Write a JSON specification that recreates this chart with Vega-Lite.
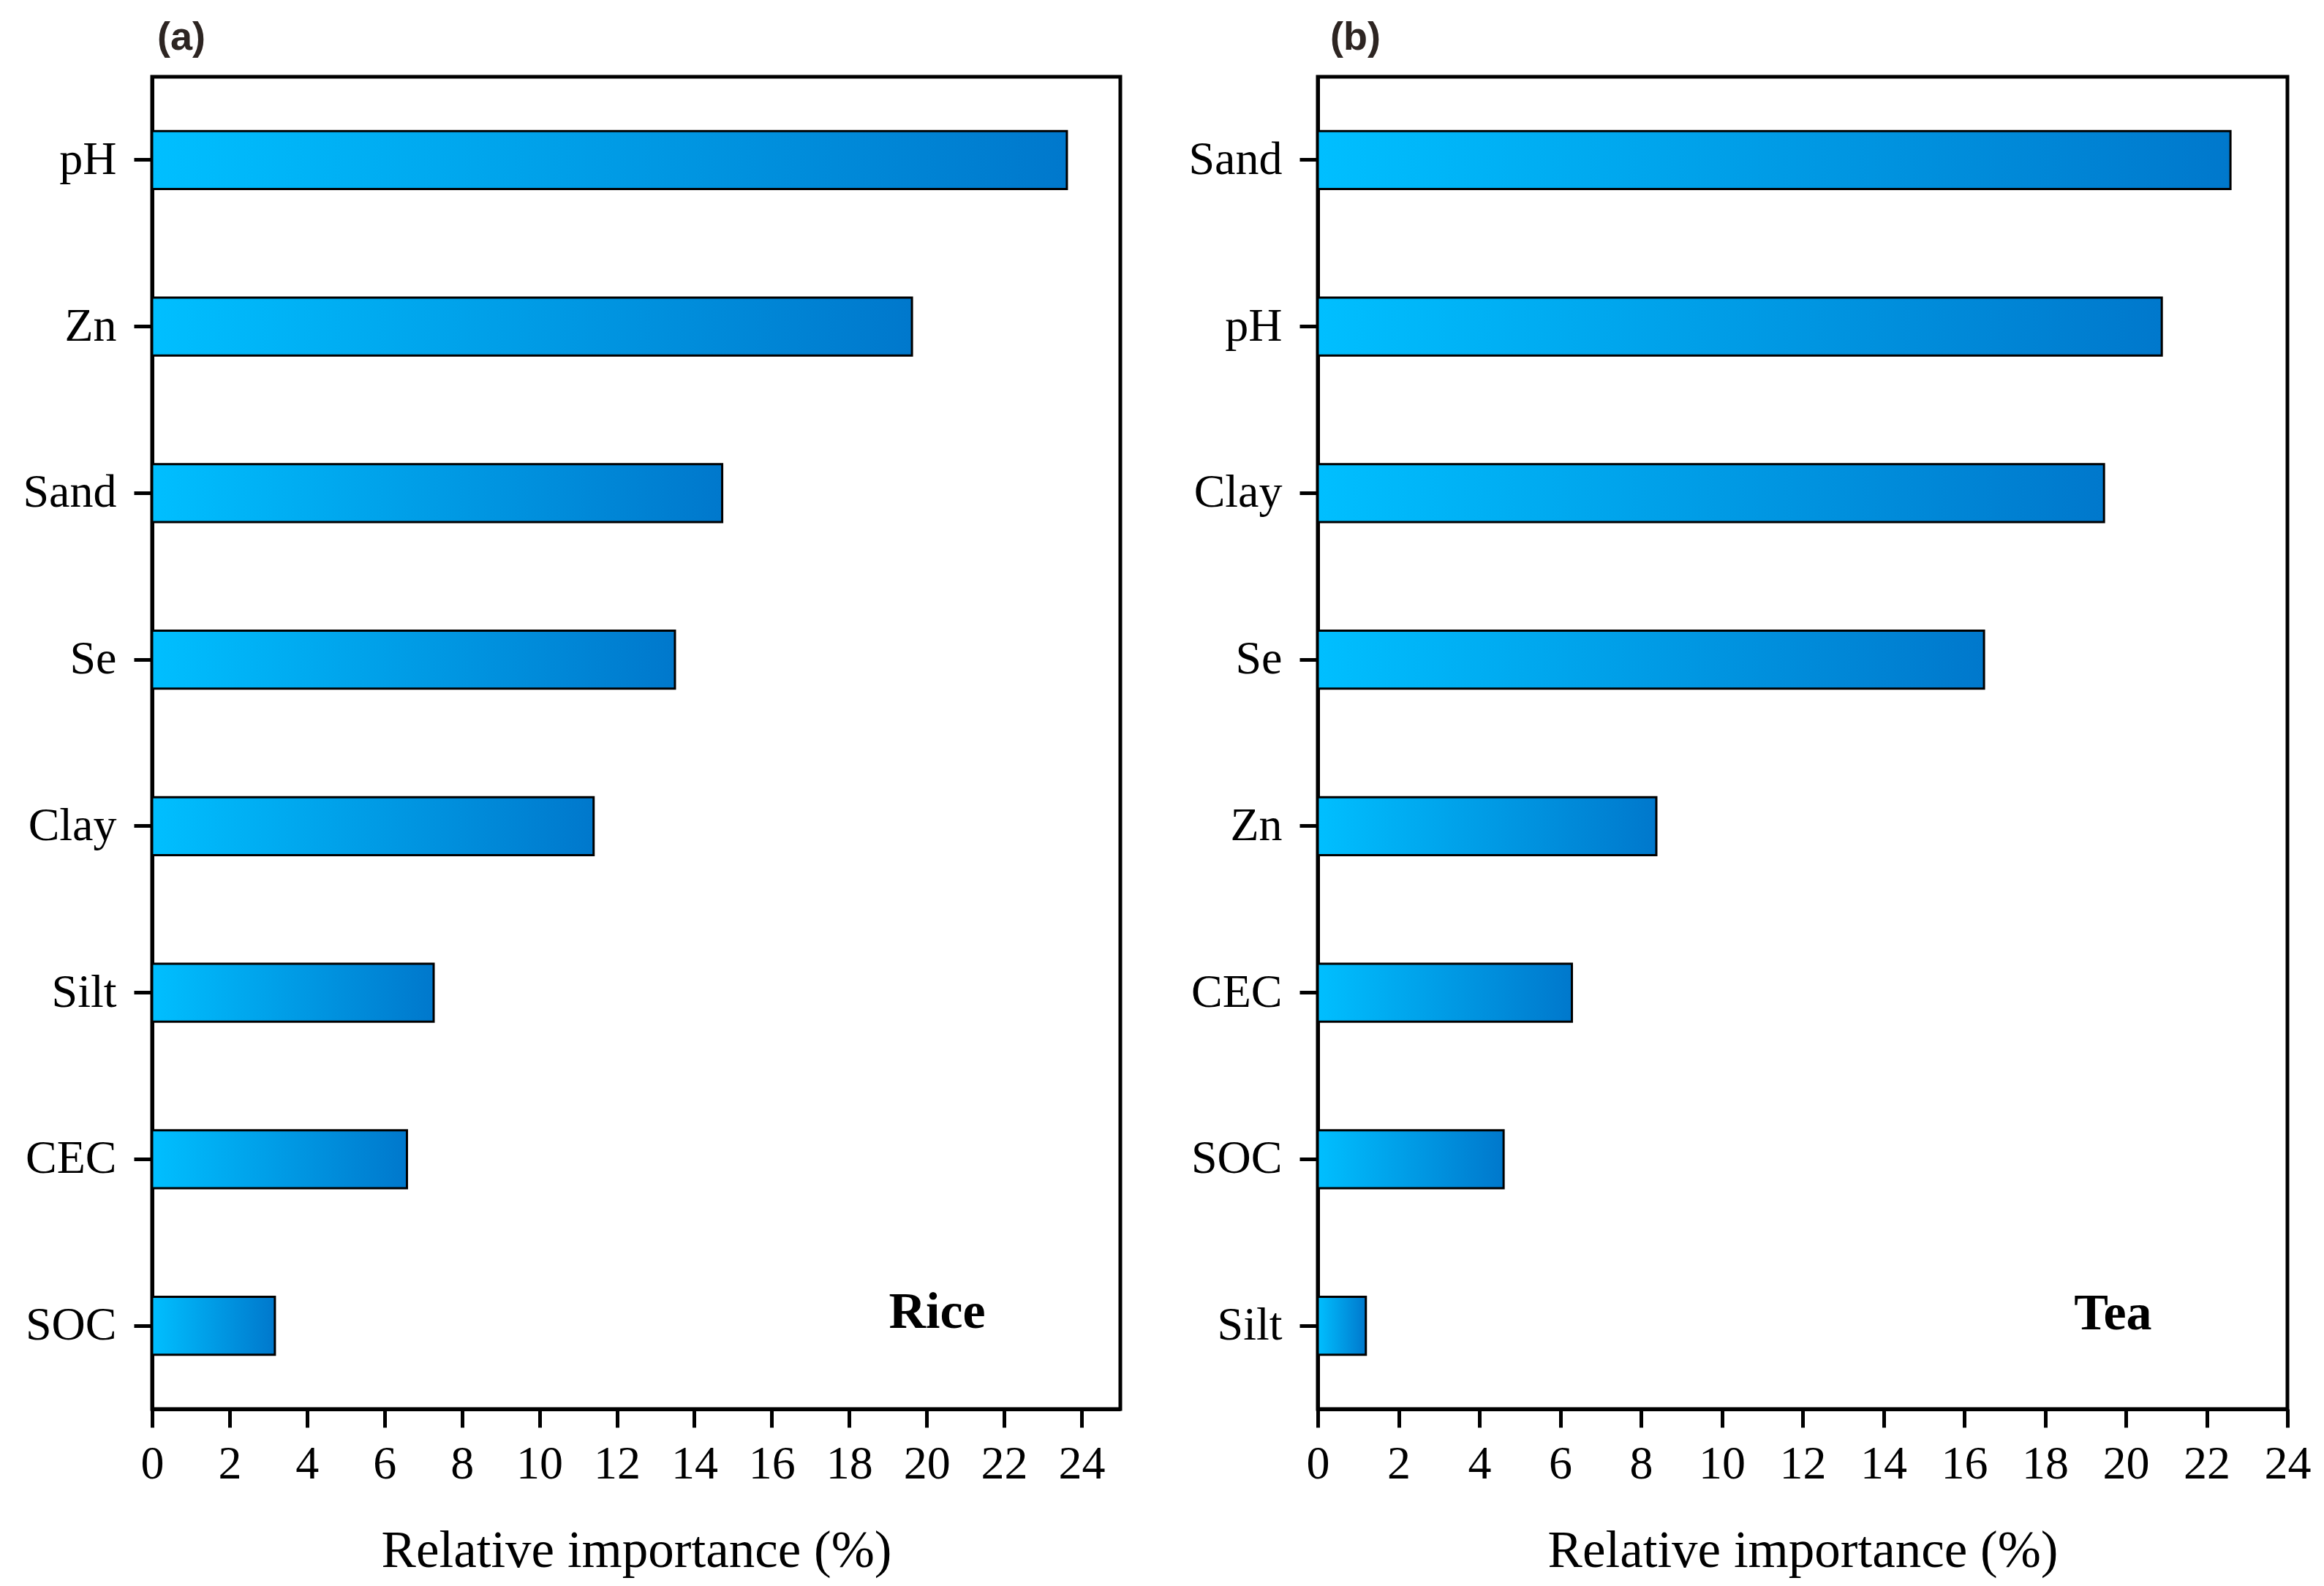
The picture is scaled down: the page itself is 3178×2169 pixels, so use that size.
{
  "$schema": "https://vega.github.io/schema/vega-lite/v6.json",
  "background": "white",
  "padding": {"left": 28, "top": 22, "right": 20, "bottom": 10},
  "bounds": "flush",
  "spacing": 270,
  "config": {
    "view": {"stroke": "black", "strokeWidth": 5},
    "axis": {
      "labelFont": "Liberation Serif", "titleFont": "Liberation Serif",
      "labelFontSize": 64, "titleFontSize": 71, "labelColor": "black", "titleColor": "black",
      "titleFontWeight": "normal", "domainColor": "black", "domainWidth": 5,
      "tickColor": "black", "tickWidth": 5, "tickSize": 25, "grid": false
    },
    "axisX": {"labelPadding": 18, "titlePadding": 52, "labelFlush": false, "labelOverlap": false, "format": "d"},
    "axisY": {"labelPadding": 24},
    "title": {"anchor": "start", "frame": "group", "font": "Liberation Sans", "fontWeight": "bold", "fontSize": 54, "color": "#2d2522", "offset": 26}
  },
  "datasets": {
    "imp": [
      {"crop": "Rice", "factor": "pH", "value": 23.62},
      {"crop": "Rice", "factor": "Zn", "value": 19.62},
      {"crop": "Rice", "factor": "Sand", "value": 14.72},
      {"crop": "Rice", "factor": "Se", "value": 13.5},
      {"crop": "Rice", "factor": "Clay", "value": 11.4},
      {"crop": "Rice", "factor": "Silt", "value": 7.27},
      {"crop": "Rice", "factor": "CEC", "value": 6.58},
      {"crop": "Rice", "factor": "SOC", "value": 3.17},
      {"crop": "Tea", "factor": "Sand", "value": 22.59},
      {"crop": "Tea", "factor": "pH", "value": 20.89},
      {"crop": "Tea", "factor": "Clay", "value": 19.46},
      {"crop": "Tea", "factor": "Se", "value": 16.49},
      {"crop": "Tea", "factor": "Zn", "value": 8.38},
      {"crop": "Tea", "factor": "CEC", "value": 6.29},
      {"crop": "Tea", "factor": "SOC", "value": 4.6},
      {"crop": "Tea", "factor": "Silt", "value": 1.19}
    ]
  },
  "hconcat": [
    {
      "width": 1324, "height": 1822,
      "title": {"text": "(a)", "dx": 7},
      "layer": [
        {
          "data": {"name": "imp"},
          "transform": [{"filter": "datum.crop === 'Rice'"}],
          "mark": {"type": "bar", "stroke": "black", "strokeWidth": 3,
            "fill": {"gradient": "linear", "x1": 0, "y1": 0, "x2": 1, "y2": 0,
              "stops": [{"offset": 0, "color": "#00BFFF"}, {"offset": 1, "color": "#0078CC"}]}},
          "encoding": {
            "y": {"field": "factor", "type": "nominal", "sort": ["pH", "Zn", "Sand", "Se", "Clay", "Silt", "CEC", "SOC"],
              "scale": {"paddingInner": 0.653, "paddingOuter": 0.3265}, "axis": {"title": null}},
            "x": {"field": "value", "type": "quantitative", "scale": {"domain": [0, 25], "nice": false},
              "axis": {"values": [0, 2, 4, 6, 8, 10, 12, 14, 16, 18, 20, 22, 24], "title": "Relative importance (%)"}}
          }
        },
        {
          "data": {"values": [{"label": "Rice", "x": 20.27, "factor": "SOC"}]},
          "mark": {"type": "text", "font": "Liberation Serif", "fontWeight": "bold", "fontSize": 70, "color": "black", "baseline": "middle", "align": "center", "dy": -18},
          "encoding": {
            "y": {"field": "factor", "type": "nominal", "sort": ["pH", "Zn", "Sand", "Se", "Clay", "Silt", "CEC", "SOC"]},
            "x": {"field": "x", "type": "quantitative"},
            "text": {"field": "label"}
          }
        }
      ]
    },
    {
      "width": 1326, "height": 1822,
      "title": {"text": "(b)", "dx": 17},
      "layer": [
        {
          "data": {"name": "imp"},
          "transform": [{"filter": "datum.crop === 'Tea'"}],
          "mark": {"type": "bar", "stroke": "black", "strokeWidth": 3,
            "fill": {"gradient": "linear", "x1": 0, "y1": 0, "x2": 1, "y2": 0,
              "stops": [{"offset": 0, "color": "#00BFFF"}, {"offset": 1, "color": "#0078CC"}]}},
          "encoding": {
            "y": {"field": "factor", "type": "nominal", "sort": ["Sand", "pH", "Clay", "Se", "Zn", "CEC", "SOC", "Silt"],
              "scale": {"paddingInner": 0.653, "paddingOuter": 0.3265}, "axis": {"title": null}},
            "x": {"field": "value", "type": "quantitative", "scale": {"domain": [0, 24], "nice": false},
              "axis": {"values": [0, 2, 4, 6, 8, 10, 12, 14, 16, 18, 20, 22, 24], "title": "Relative importance (%)"}}
          }
        },
        {
          "data": {"values": [{"label": "Tea", "x": 19.68, "factor": "Silt"}]},
          "mark": {"type": "text", "font": "Liberation Serif", "fontWeight": "bold", "fontSize": 70, "color": "black", "baseline": "middle", "align": "center", "dy": -16},
          "encoding": {
            "y": {"field": "factor", "type": "nominal", "sort": ["Sand", "pH", "Clay", "Se", "Zn", "CEC", "SOC", "Silt"]},
            "x": {"field": "x", "type": "quantitative"},
            "text": {"field": "label"}
          }
        }
      ]
    }
  ]
}
